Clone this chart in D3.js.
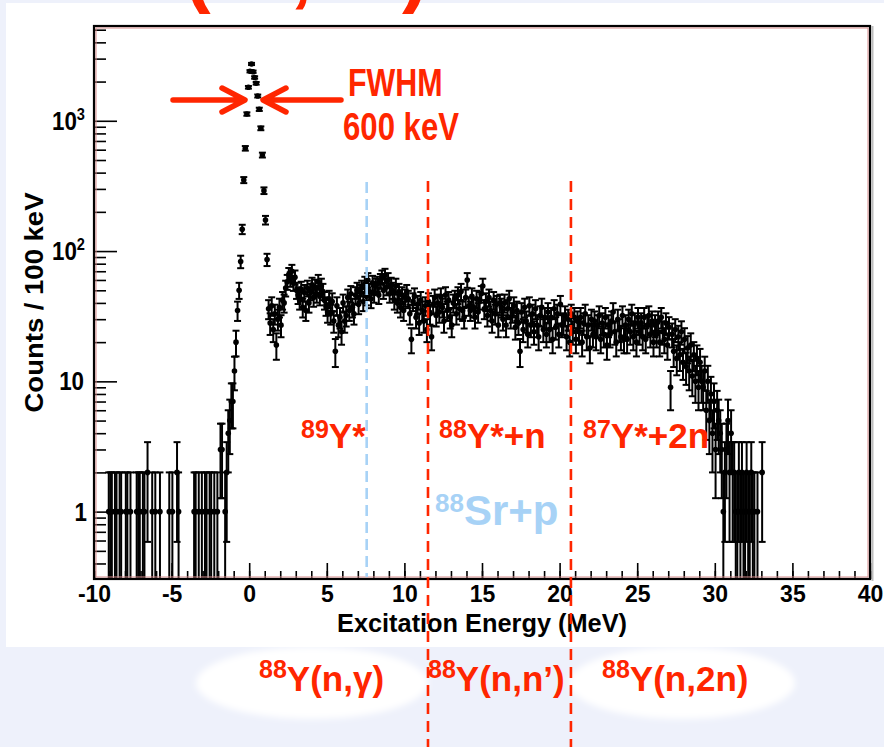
<!DOCTYPE html>
<html>
<head>
<meta charset="utf-8">
<script src="https://cdn.jsdelivr.net/npm/d3@7"></script>
<style>
  html, body { margin: 0; padding: 0; background: #eef1fb; }
  svg { display: block; }
</style>
</head>
<body>
<svg id="chart" width="884" height="747"></svg>
<script>
// Excitation-energy spectrum, 100 keV bins starting at -10 MeV
const histStart = -10;
const binWidth = 0.1;

// -10.0 ... -0.8 MeV (92 bins)
const countsBelowPeak = [
  0, 0, 0, 0, 0, 0, 0, 0, 0, 1,
  1, 1, 0, 1, 1, 0, 1, 1, 0, 0,
  1, 1, 0, 1, 0, 0, 0, 1, 1, 1,
  0, 1, 1, 0, 2, 0, 0, 1, 0, 1,
  0, 0, 1, 0, 0, 0, 0, 0, 1, 0,
  1, 0, 0, 2, 1, 0, 0, 0, 0, 0,
  0, 0, 0, 0, 1, 1, 0, 1, 0, 1,
  0, 1, 1, 0, 1, 1, 0, 1, 0, 1,
  0, 3, 3, 0, 1, 2, 4, 5, 7, 7,
  12, 20
];

// -0.8 ... 1.2 MeV (20 bins) : ground-state peak
const countsPeak = [
  35, 50, 83, 147, 351, 615, 1127, 1808, 2400, 2730,
  2380, 2150, 1940, 1550, 1225, 876, 546, 291, 173, 86
];

// 1.2 ... 33.2 MeV (320 bins) : continuum
const countsContinuum = [
  36, 28, 38, 25, 33, 19, 30, 37, 27, 42,
  40, 52, 58, 66, 61, 70, 57, 63, 50, 46,
  42, 51, 37, 48, 35, 52, 40, 49, 55, 44,
  53, 47, 58, 45, 54, 49, 42, 38, 34, 43,
  33, 41, 29, 17, 38, 27, 31, 24, 40, 29,
  32, 44, 35, 47, 37, 33, 46, 50, 39, 48,
  52, 41, 56, 45, 60, 49, 43, 57, 47, 54,
  56, 46, 59, 63, 50, 65, 53, 60, 47, 55,
  50, 42, 54, 40, 49, 37, 46, 35, 44, 48,
  43, 33, 21, 41, 45, 31, 39, 28, 42, 35,
  29, 38, 25, 41, 33, 22, 39, 44, 32, 40,
  34, 45, 37, 29, 46, 35, 42, 31, 27, 40,
  43, 33, 46, 36, 49, 35, 31, 44, 60, 38,
  35, 45, 37, 31, 43, 34, 42, 47, 54, 36,
  41, 32, 44, 35, 29, 42, 33, 39, 27, 40,
  37, 30, 40, 27, 36, 43, 31, 34, 38, 26,
  35, 28, 17, 34, 25, 37, 29, 23, 38, 27,
  33, 24, 36, 27, 22, 32, 37, 25, 31, 23,
  34, 25, 31, 21, 36, 26, 33, 23, 39, 27,
  28, 32, 22, 30, 20, 33, 24, 31, 21, 29,
  24, 31, 20, 28, 33, 22, 27, 18, 30, 23,
  29, 22, 27, 32, 21, 28, 23, 31, 19, 27,
  23, 29, 34, 24, 20, 30, 25, 22, 32, 21,
  27, 21, 30, 24, 33, 22, 28, 20, 31, 24,
  28, 22, 31, 21, 27, 32, 23, 29, 20, 27,
  23, 29, 20, 31, 24, 21, 28, 19, 26, 9,
  23, 17, 25, 15, 22, 16, 24, 14, 21, 13,
  18, 12, 19, 11, 16, 10, 15, 9, 14, 10,
  9, 12, 6, 10, 5, 8, 4, 7, 3, 6,
  5, 4, 3, 1, 2, 3, 5, 2, 4, 2,
  2, 1, 1, 2, 1, 2, 1, 1, 2, 1,
  1, 2, 1, 1, 0, 1, 0, 0, 2, 0
];

// decay thresholds (MeV)
const neutronThresholds = [11.52, 20.73];
const protonThreshold = 7.57;

// axis ticks
const xMajorTicks = [-10, -5, 0, 5, 10, 15, 20, 25, 30, 35, 40];
const yDecades = [1, 10, 100, 1000];
const yDecadeLabels = [["1", ""], ["10", ""], ["10", "2"], ["10", "3"]];

// channel labels
const channelSup = ["89", "88", "87"];
const channelMain = ["Y*", "Y*+n", "Y*+2n"];
const reactionSup = ["88", "88", "88"];
const reactionMain = ["Y(n,\u03b3)", "Y(n,n\u2019)", "Y(n,2n)"];

const RED = "#ff2600";
const BLUE = "#a7d2f6";
const FONT = "'Liberation Sans', Arial, Helvetica, sans-serif";

const svg = d3.select("#chart");
const W = 884, H = 747;
const frame = { left: 94, right: 870, top: 26, bottom: 579 };

const x = d3.scaleLinear().domain([-10, 40]).range([frame.left, frame.right]);
const y = d3.scaleLog().domain([0.304, 5340]).range([frame.bottom, frame.top]);

const defs = svg.append("defs");
defs.append("clipPath").attr("id", "plotClip")
  .append("rect")
  .attr("x", frame.left).attr("y", frame.top)
  .attr("width", frame.right - frame.left).attr("height", frame.bottom - frame.top);
defs.append("filter").attr("id", "soft")
  .attr("x", "-20%").attr("y", "-30%").attr("width", "140%").attr("height", "160%")
  .append("feGaussianBlur").attr("stdDeviation", 3);

// page and canvas
svg.append("rect").attr("width", W).attr("height", H).attr("fill", "#eef1fb");
svg.append("rect").attr("x", 6).attr("y", 3).attr("width", W - 6).attr("height", 644).attr("fill", "#ffffff");

// white ovals behind the reaction names
svg.append("g").attr("filter", "url(#soft)")
  .selectAll("ellipse")
  .data([{ cx: 312, rx: 116 }, { cx: 682, rx: 113 }])
  .join("ellipse")
  .attr("cx", d => d.cx).attr("cy", 683)
  .attr("rx", d => d.rx).attr("ry", 36)
  .attr("fill", "#ffffff");

// slide title (runs off the top edge)
const title = svg.append("text")
  .attr("y", -3)
  .attr("font-family", FONT).attr("font-weight", "bold")
  .attr("font-size", 80).attr("fill", RED);
[["(", 184], ["\u03b1", 214], [",", 290], ["\u03b1\u2019", 318], [")", 402]].forEach(([t, px]) => {
  title.append("tspan").attr("x", px).text(t);
});

// histogram bins
const counts = countsBelowPeak.concat(countsPeak, countsContinuum);
const bins = counts
  .map((n, i) => ({ e: histStart + binWidth * (i + 0.5), n }))
  .filter(d => d.n > 0);

const plot = svg.append("g").attr("clip-path", "url(#plotClip)");
const capW = 3.5;
const bars = plot.append("g").attr("stroke", "#000").attr("stroke-width", 2).attr("fill", "none");
bins.forEach(d => {
  const err = Math.sqrt(d.n);
  const hi = y(d.n + err);
  const lo = d.n - err > 0 ? y(d.n - err) : frame.bottom + 5;
  const cx = x(d.e);
  bars.append("line").attr("x1", cx).attr("x2", cx).attr("y1", hi).attr("y2", lo);
  bars.append("line").attr("x1", cx - capW).attr("x2", cx + capW).attr("y1", hi).attr("y2", hi);
  if (d.n - err > 0) {
    bars.append("line").attr("x1", cx - capW).attr("x2", cx + capW).attr("y1", lo).attr("y2", lo);
  }
});
plot.append("g").selectAll("circle")
  .data(bins)
  .join("circle")
  .attr("cx", d => x(d.e)).attr("cy", d => y(d.n))
  .attr("r", 2.8).attr("fill", "#000");

// x axis: major and minor ticks pointing into the frame
const xAxis = svg.append("g").attr("transform", `translate(0,${frame.bottom})`)
  .call(d3.axisBottom(x).tickValues(d3.range(-10, 41, 1)).tickSize(-8).tickFormat(""));
xAxis.select(".domain").remove();
xAxis.selectAll("line").attr("stroke", "#000").attr("stroke-width", 1.6);

const xAxisMajor = svg.append("g").attr("transform", `translate(0,${frame.bottom})`)
  .call(d3.axisBottom(x).tickValues(xMajorTicks).tickSize(-16).tickPadding(7).tickFormat(d => String(d)));
xAxisMajor.select(".domain").remove();
xAxisMajor.selectAll("line").attr("stroke", "#000").attr("stroke-width", 1.6);
xAxisMajor.selectAll("text")
  .attr("font-family", FONT).attr("font-weight", "bold")
  .attr("font-size", 23).attr("fill", "#000");

// y axis: decades and 2..9 sub-ticks
const yMinor = [];
[0.1, 1, 10, 100, 1000].forEach(dec => {
  for (let k = 2; k <= 9; k++) {
    const v = dec * k;
    if (v >= 0.304 && v <= 5340) yMinor.push(v);
  }
});
const yAxisMinor = svg.append("g").attr("transform", `translate(${frame.left},0)`)
  .call(d3.axisLeft(y).tickValues(yMinor).tickSize(-12).tickFormat(""));
yAxisMinor.select(".domain").remove();
yAxisMinor.selectAll("line").attr("stroke", "#000").attr("stroke-width", 1.6);

const yAxisMajor = svg.append("g").attr("transform", `translate(${frame.left},0)`)
  .call(d3.axisLeft(y).tickValues(yDecades).tickSize(-23).tickFormat(""));
yAxisMajor.select(".domain").remove();
yAxisMajor.selectAll("line").attr("stroke", "#000").attr("stroke-width", 1.6);

// decade labels, slightly narrow
yDecades.forEach((v, i) => {
  const [base, exp] = yDecadeLabels[i];
  const right = exp ? 85 : (base === "1" ? 87 : 84);
  const t = svg.append("text")
    .attr("transform", `translate(${right},${y(v) + 9}) scale(0.86,1)`)
    .attr("text-anchor", "end")
    .attr("font-family", FONT).attr("font-weight", "bold")
    .attr("font-size", 26).attr("fill", "#000");
  t.append("tspan").text(base);
  if (exp) t.append("tspan").attr("font-size", 17).attr("dy", -10).text(exp);
});

// frame
svg.append("rect")
  .attr("x", frame.left + 2).attr("y", frame.top + 2)
  .attr("width", frame.right - frame.left - 4).attr("height", frame.bottom - frame.top - 4)
  .attr("fill", "none").attr("stroke", "#d98c8c").attr("stroke-width", 1);
svg.append("line")
  .attr("x1", frame.right + 2.5).attr("x2", frame.right + 2.5)
  .attr("y1", frame.top).attr("y2", frame.bottom + 2)
  .attr("stroke", "#bdbdbd").attr("stroke-width", 2);
svg.append("rect")
  .attr("x", frame.left).attr("y", frame.top)
  .attr("width", frame.right - frame.left).attr("height", frame.bottom - frame.top)
  .attr("fill", "none").attr("stroke", "#000").attr("stroke-width", 2.2);

// axis titles
svg.append("text")
  .attr("x", (frame.left + frame.right) / 2).attr("y", 632)
  .attr("text-anchor", "middle")
  .attr("font-family", FONT).attr("font-weight", "bold").attr("font-size", 25)
  .attr("textLength", 290).attr("lengthAdjust", "spacingAndGlyphs")
  .text("Excitation Energy (MeV)");
svg.append("text")
  .attr("transform", `translate(43,${(frame.top + frame.bottom) / 2}) rotate(-90)`)
  .attr("text-anchor", "middle")
  .attr("font-family", FONT).attr("font-weight", "bold").attr("font-size", 26)
  .attr("textLength", 220).attr("lengthAdjust", "spacingAndGlyphs")
  .text("Counts / 100 keV");

// FWHM arrows
const arrows = svg.append("g")
  .attr("stroke", RED).attr("stroke-width", 5.5)
  .attr("stroke-linecap", "round").attr("stroke-linejoin", "round").attr("fill", "none");
arrows.append("path").attr("d", "M173,100 L243,100 M222,88 L245,100 L222,112");
arrows.append("path").attr("d", "M341,100 L265,100 M286,88 L263,100 L286,112");

const condensed = (px, py, sx, size, str) =>
  svg.append("text")
    .attr("transform", `translate(${px},${py}) scale(${sx},1)`)
    .attr("font-family", FONT).attr("font-weight", "bold")
    .attr("font-size", size).attr("fill", RED).text(str);
condensed(348, 96, 0.8, 38, "FWHM");
condensed(343, 140, 0.82, 38, "600 keV");

// decay-channel labels inside the frame
const chanX = [301, 439, 583];
channelMain.forEach((m, i) => {
  const t = svg.append("text").attr("x", chanX[i]).attr("y", 448)
    .attr("font-family", FONT).attr("font-weight", "bold").attr("fill", RED);
  t.append("tspan").attr("font-size", 25).attr("dy", -10).text(channelSup[i]);
  t.append("tspan").attr("font-size", 35).attr("dy", 10).text(m);
});
const sr = svg.append("text").attr("x", 435).attr("y", 525)
  .attr("font-family", FONT).attr("font-weight", "bold").attr("fill", BLUE);
sr.append("tspan").attr("font-size", 26).attr("dy", -13).text("88");
sr.append("tspan").attr("font-size", 42).attr("dy", 13).text("Sr+p");

// reaction names below the axis
const reacX = [259, 428, 602];
reactionMain.forEach((m, i) => {
  const t = svg.append("text").attr("x", reacX[i]).attr("y", 691)
    .attr("font-family", FONT).attr("font-weight", "bold").attr("fill", RED);
  t.append("tspan").attr("font-size", 25).attr("dy", -13).text(reactionSup[i]);
  t.append("tspan").attr("font-size", 35).attr("dy", 13).text(m);
});

// threshold lines
svg.append("line")
  .attr("x1", x(protonThreshold)).attr("x2", x(protonThreshold))
  .attr("y1", 182).attr("y2", 577)
  .attr("stroke", BLUE).attr("stroke-width", 2.6).attr("stroke-dasharray", "11 6");
svg.append("g").selectAll("line")
  .data(neutronThresholds)
  .join("line")
  .attr("x1", d => x(d)).attr("x2", d => x(d))
  .attr("y1", 181).attr("y2", H)
  .attr("stroke", RED).attr("stroke-width", 2.6).attr("stroke-dasharray", "11 7");
</script>
</body>
</html>
